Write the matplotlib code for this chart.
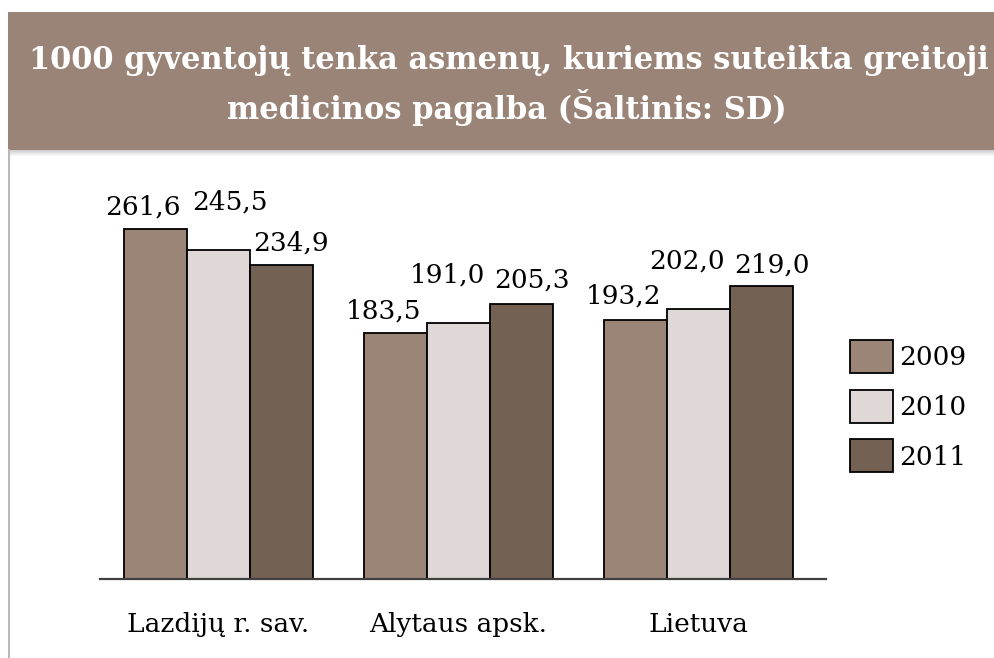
import matplotlib.pyplot as plt
from matplotlib.patches import Rectangle, Patch
from matplotlib.lines import Line2D
import numpy as np

# duomenys
regions = ["Lazdijų r. sav.", "Alytaus apsk.", "Lietuva"]
years = ["2009", "2010", "2011"]
v2009 = [261.6, 183.5, 193.2]
v2010 = [245.5, 191.0, 202.0]
v2011 = [234.9, 205.3, 219.0]
values = [v2009, v2010, v2011]

colors = ["#9b8577", "#e0d7d7", "#736154"]
title = "1000 gyventojų tenka asmenų, kuriems suteikta greitoji\nmedicinos pagalba (Šaltinis: SD)"

# etikečių poslinkiai (pikseliais), kad nesusikirstų
label_dx = [[-12, -12, -12], [12, -11, -11], [10, 11, 11]]
label_dy = [[22, 22, 24], [48, 48, 48], [22, 24, 21]]

plt.rcParams["font.family"] = "DejaVu Serif"

W, H = 994, 658
fig = plt.figure(figsize=(W / 100, H / 100), dpi=100)

# antraštės juosta su šešėliu
for k in range(7):
    fig.patches.append(Rectangle((8 / W, 1 - (150 + k) / H), 1, 1 / H,
                                 transform=fig.transFigure, facecolor="#000000",
                                 alpha=0.22 * (1 - k / 7), edgecolor="none"))
fig.patches.append(Rectangle((8 / W, 1 - 150 / H), 1, 138 / H,
                             transform=fig.transFigure, facecolor="#9a8477",
                             edgecolor="none"))
fig.lines.append(Line2D([8.5 / W, 8.5 / W], [0, 1 - 150 / H], transform=fig.transFigure,
                        color="#b8b8b8", lw=1.5))
fig.text(509 / W, 1 - 69 / H, title.split("\n")[0], color="white", fontsize=22,
         fontweight="bold", ha="center", va="baseline")
fig.text(507 / W, 1 - 119 / H, title.split("\n")[1], color="white", fontsize=22,
         fontweight="bold", ha="center", va="baseline")

ax = fig.add_axes([100 / W, 1 - 579 / H, 726 / W, 419 / H])
x = np.arange(len(regions))
width = 0.2625

for i, (yr, vals, c) in enumerate(zip(years, values, colors)):
    pos = x + (i - 1) * width
    bars = ax.bar(pos, vals, width, color=c, edgecolor="black", linewidth=1.3,
                  label=yr, zorder=2)
    for j, b in enumerate(bars):
        ax.annotate(f"{vals[j]:.1f}".replace(".", ","),
                    (b.get_x() + b.get_width() / 2, b.get_height()),
                    xytext=(label_dx[i][j], label_dy[i][j]), textcoords="offset pixels",
                    ha="center", va="center", fontsize=19)

ax.set_xlim(-0.492, 2.533)
ax.set_ylim(0, 313)
ax.set_xticks(x)
ax.set_xticklabels(regions, fontsize=19)
ax.tick_params(axis="x", length=0, pad=24)
ax.set_yticks([])
for s in ["top", "right", "left"]:
    ax.spines[s].set_visible(False)
ax.spines["bottom"].set_color("#404040")
ax.spines["bottom"].set_linewidth(1.6)

handles = [Patch(facecolor=c, edgecolor="black", linewidth=1.3) for c in colors]
fig.legend(handles, years, loc="upper left", bbox_to_anchor=(850 / W, 1 - 340 / H),
           frameon=False, fontsize=19, borderpad=0, borderaxespad=0,
           handlelength=1.63, handleheight=1.55, handletextpad=0.25, labelspacing=0.63)

fig.savefig("out.png", dpi=100)
